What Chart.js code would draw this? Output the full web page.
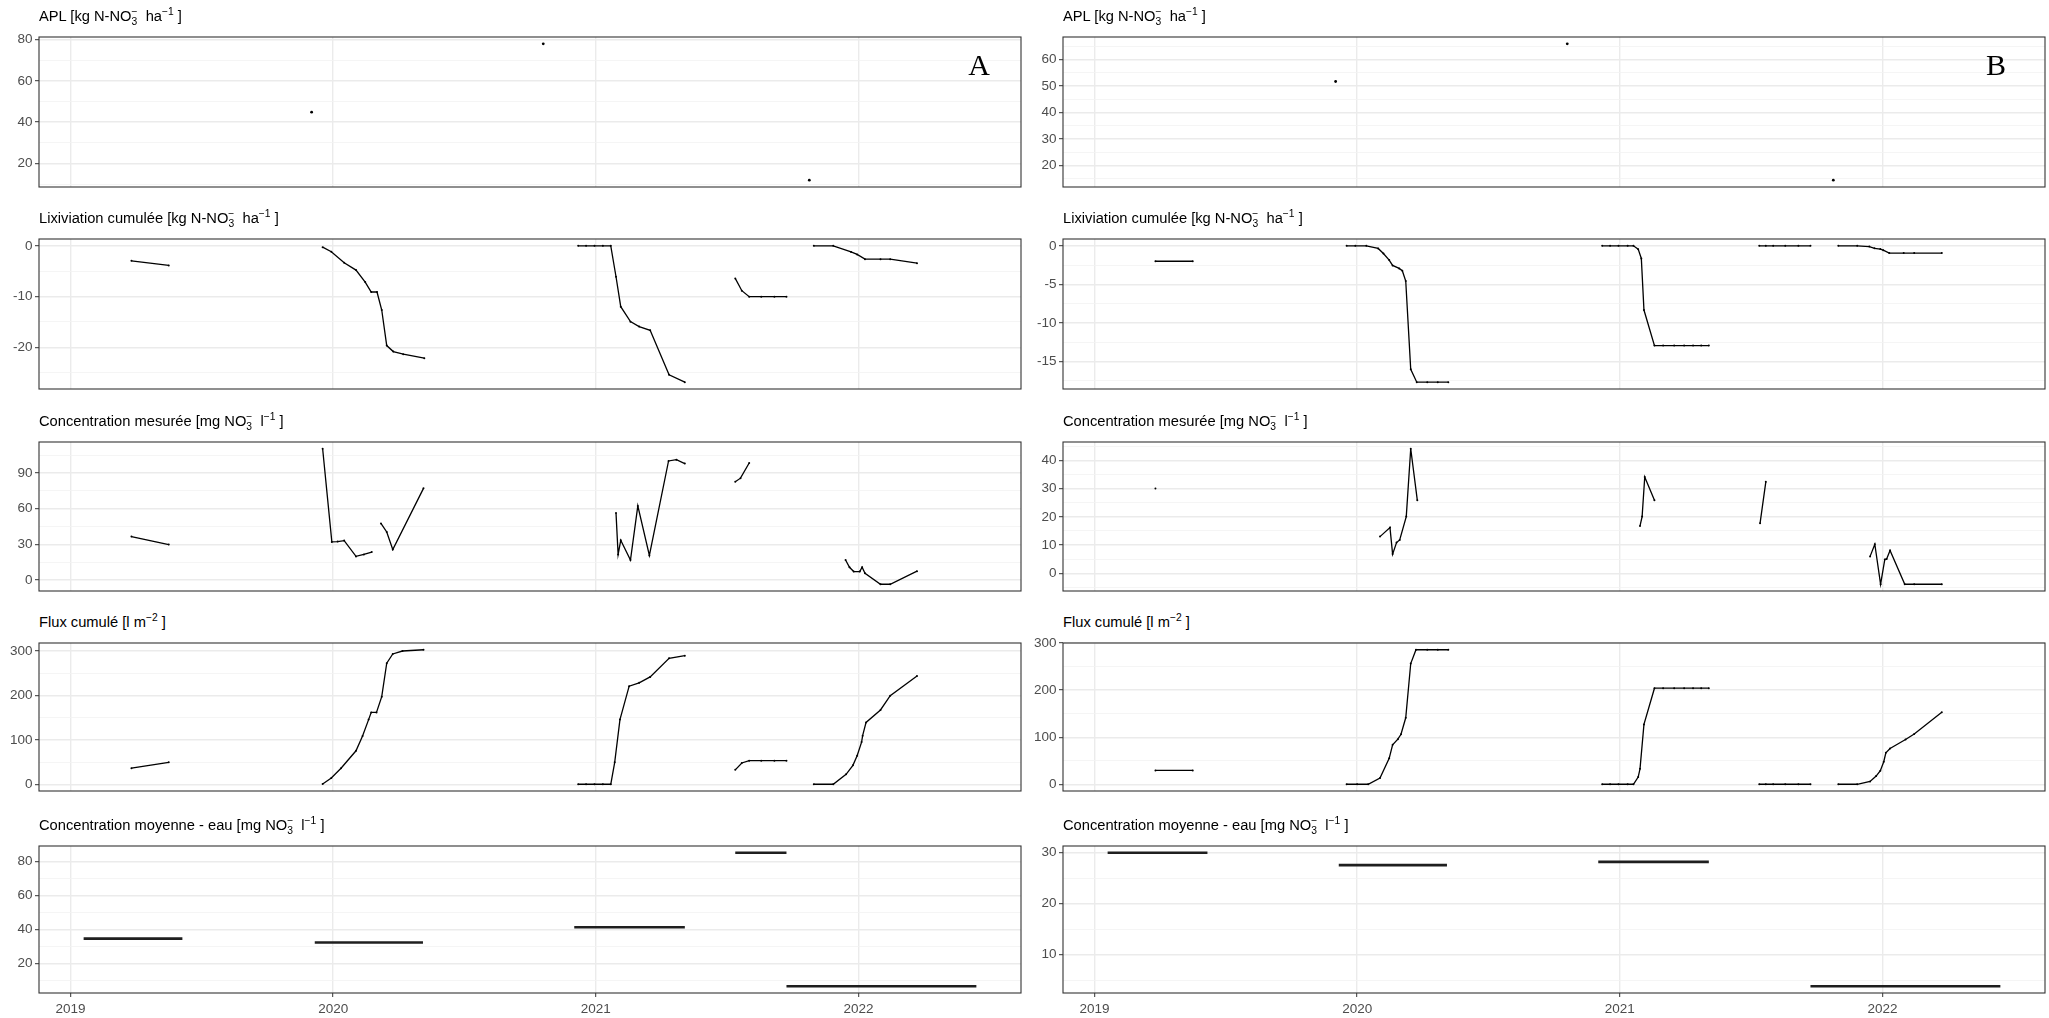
<!DOCTYPE html>
<html>
<head>
<meta charset="utf-8">
<script src="https://cdn.jsdelivr.net/npm/chart.js@4.4.1/dist/chart.umd.min.js"></script>
<style>
  html, body { margin: 0; padding: 0; background: #fff; }
  #fig { position: relative; width: 2049px; height: 1018px; overflow: hidden;
         font-family: "Liberation Sans", Arial, sans-serif; }
  .panel { position: absolute; }
  .ttl { position: absolute; font-size: 14.7px; line-height: 17px; color: #000; white-space: nowrap; }
  .ttl sub, .ttl sup { font-size: 0.7em; line-height: 0; }
  .ttl sup.st { margin-left: -0.56em; }
  .tag { position: absolute; font-family: "Liberation Serif", "Times New Roman", serif;
         font-size: 30px; line-height: 30px; color: #000; transform: translate(-50%, -50%); }
</style>
</head>
<body>
<div id="fig"></div>
<script>
// ---- x axis (decimal years) ----
const yearTicks = [2019, 2020, 2021, 2022];

// ---- panel titles ----
const panelTitles = [
  'APL [kg N-NO<sub>3</sub><sup class="st">−</sup>&nbsp; ha<sup>−1</sup> ]',
  'Lixiviation cumulée [kg N-NO<sub>3</sub><sup class="st">−</sup>&nbsp; ha<sup>−1</sup> ]',
  'Concentration mesurée [mg NO<sub>3</sub><sup class="st">−</sup>&nbsp; l<sup>−1</sup> ]',
  'Flux cumulé [l m<sup>−2</sup> ]',
  'Concentration moyenne - eau [mg NO<sub>3</sub><sup class="st">−</sup>&nbsp; l<sup>−1</sup> ]'
];
const columnTags = ['A', 'B'];

// ---- APL (single observations) ----
const aplA = [[2019.918, 44.8], [2020.800, 77.9], [2021.813, 11.9]];
const aplB = [[2019.918, 51.7], [2020.800, 65.9], [2021.813, 14.5]];

// ---- cumulative leaching, one sub-array per season ----
const lixA = [
  [[2019.232, -2.95], [2019.374, -3.87]],
  [[2019.960, -0.26], [2019.993, -1.18], [2020.042, -3.34], [2020.087, -4.79], [2020.122, -7.15], [2020.145, -9.11],
   [2020.167, -9.11], [2020.185, -12.66], [2020.204, -19.67], [2020.229, -20.85], [2020.267, -21.38], [2020.347, -22.16]],
  [[2020.933, 0], [2020.963, 0], [2020.995, 0], [2021.027, 0], [2021.057, 0], [2021.077, -6.1], [2021.095, -12.0],
   [2021.132, -14.95], [2021.165, -15.93], [2021.207, -16.66], [2021.279, -25.44], [2021.339, -26.89]],
  [[2021.531, -6.43], [2021.556, -8.85], [2021.584, -10.03], [2021.630, -10.03], [2021.680, -10.03], [2021.726, -10.03]],
  [[2021.830, 0], [2021.904, 0], [2021.972, -1.2], [2021.995, -1.7], [2022.025, -2.63], [2022.084, -2.63],
   [2022.121, -2.63], [2022.223, -3.42]]
];
const lixB = [
  [[2019.232, -2.0], [2019.374, -2.0]],
  [[2019.960, 0], [2019.993, 0], [2020.035, 0], [2020.080, -0.34], [2020.100, -0.99], [2020.122, -1.85], [2020.135, -2.54],
   [2020.160, -2.93], [2020.172, -3.23], [2020.185, -4.57], [2020.204, -15.99], [2020.227, -17.67], [2020.267, -17.67],
   [2020.307, -17.67], [2020.347, -17.67]],
  [[2020.933, 0], [2020.963, 0], [2020.995, 0], [2021.030, 0], [2021.052, 0], [2021.070, -0.43], [2021.082, -1.64],
   [2021.092, -8.32], [2021.132, -12.93], [2021.165, -12.93], [2021.207, -12.93], [2021.245, -12.93], [2021.279, -12.93],
   [2021.310, -12.93], [2021.339, -12.93]],
  [[2021.531, 0], [2021.556, 0], [2021.584, 0], [2021.630, 0], [2021.680, 0], [2021.726, 0]],
  [[2021.832, 0], [2021.904, 0], [2021.950, -0.1], [2021.970, -0.33], [2021.992, -0.42], [2022.003, -0.56],
   [2022.026, -0.94], [2022.081, -0.94], [2022.121, -0.94], [2022.226, -0.94]]
];

// ---- measured concentration ----
const concA = [
  [[2019.232, 36.5], [2019.374, 29.8]],
  [[2019.960, 110.6], [2019.995, 32.0], [2020.017, 32.3], [2020.042, 33.1], [2020.087, 19.8], [2020.117, 21.4], [2020.147, 23.4]],
  [[2020.182, 47.6], [2020.204, 40.4], [2020.227, 25.6], [2020.344, 77.2]],
  [[2021.077, 56.3], [2021.085, 21.4], [2021.095, 33.4], [2021.132, 16.7], [2021.160, 62.4], [2021.204, 20.6],
   [2021.277, 100.3], [2021.307, 101.4], [2021.339, 98.1]],
  [[2021.531, 82.7], [2021.551, 85.8], [2021.584, 98.6]],
  [[2021.951, 16.7], [2021.966, 10.6], [2021.982, 7.0], [2022.005, 7.0], [2022.014, 10.6], [2022.025, 5.5],
   [2022.084, -3.7], [2022.121, -3.7], [2022.223, 7.3]]
];
const concB = [
  [[2019.232, 30.0]],
  [[2020.087, 13.0], [2020.125, 16.2], [2020.135, 6.8], [2020.150, 10.9], [2020.162, 11.8], [2020.187, 20.1],
   [2020.204, 44.1], [2020.229, 25.9]],
  [[2021.077, 16.8], [2021.085, 20.1], [2021.095, 34.1], [2021.132, 25.9]],
  [[2021.534, 17.7], [2021.556, 32.4]],
  [[2021.953, 6.0], [2021.971, 10.3], [2021.993, -3.86], [2022.009, 4.9], [2022.016, 5.1], [2022.029, 8.1],
   [2022.085, -3.86], [2022.121, -3.86], [2022.226, -3.86]]
];

// ---- cumulative drainage flux ----
const fluxA = [
  [[2019.232, 36.2], [2019.374, 49.5]],
  [[2019.960, 0.7], [2019.993, 14.0], [2020.030, 36.2], [2020.087, 75.4], [2020.112, 108.6], [2020.135, 145.6],
   [2020.145, 161.9], [2020.165, 161.9], [2020.185, 197.3], [2020.204, 272.7], [2020.227, 293.4], [2020.264, 300.1],
   [2020.344, 303.0]],
  [[2020.933, 0], [2020.963, 0], [2020.995, 0], [2021.027, 0], [2021.057, 0], [2021.072, 49.5], [2021.092, 145.6],
   [2021.127, 221.0], [2021.165, 228.4], [2021.207, 241.7], [2021.279, 283.8], [2021.339, 289.7]],
  [[2021.531, 32.5], [2021.556, 48.0], [2021.584, 53.2], [2021.630, 53.2], [2021.680, 53.2], [2021.726, 53.2]],
  [[2021.830, 0], [2021.904, 0], [2021.953, 22.5], [2021.979, 42.6], [2021.995, 64.4], [2022.012, 95.0],
   [2022.016, 109.4], [2022.029, 139.2], [2022.084, 167.3], [2022.121, 199.5], [2022.223, 243.8]]
];
const fluxB = [
  [[2019.232, 29.4], [2019.374, 29.4]],
  [[2019.960, 0], [2020.000, 0], [2020.042, 0], [2020.087, 13.3], [2020.122, 55.2], [2020.135, 83.9], [2020.155, 95.8],
   [2020.167, 106.3], [2020.185, 141.3], [2020.204, 256.6], [2020.224, 286.0], [2020.267, 286.0], [2020.307, 286.0],
   [2020.347, 286.0]],
  [[2020.933, 0], [2020.963, 0], [2020.995, 0], [2021.030, 0], [2021.052, 0], [2021.070, 15.4], [2021.077, 32.9],
   [2021.092, 127.3], [2021.132, 204.2], [2021.165, 204.2], [2021.207, 204.2], [2021.245, 204.2], [2021.279, 204.2],
   [2021.310, 204.2], [2021.339, 204.2]],
  [[2021.531, 0], [2021.556, 0], [2021.584, 0], [2021.630, 0], [2021.680, 0], [2021.726, 0]],
  [[2021.832, 0], [2021.904, 0], [2021.953, 6.1], [2021.976, 17.5], [2021.992, 29.0], [2022.005, 48.0],
   [2022.013, 67.0], [2022.029, 76.2], [2022.088, 95.3], [2022.121, 106.7], [2022.226, 153.2]]
];

// ---- mean concentration of drained water per period ----
const moyA = [
  [[2019.050, 34.6], [2019.426, 34.6]],
  [[2019.930, 32.3], [2020.342, 32.3]],
  [[2020.918, 41.3], [2021.339, 41.3]],
  [[2021.531, 85.2], [2021.726, 85.2]],
  [[2021.726, 6.5], [2022.449, 6.5]]
];
const moyB = [
  [[2019.050, 30.0], [2019.430, 30.0]],
  [[2019.930, 27.56], [2020.342, 27.56]],
  [[2020.918, 28.2], [2021.339, 28.2]],
  [[2021.726, 3.76], [2022.449, 3.76]]
];

// major / minor y gridline spacing per row, per column
const yStepsA = [[20, 10], [10, 5], [30, 15], [100, 50], [20, 10]];
const yStepsB = [[10, 5], [5, 2.5], [10, 5], [100, 50], [10, 5]];

// ---------------- layout ----------------
const layoutCfg = {
  rows: [[37, 187], [239, 389], [442, 591], [643, 791], [846, 993]],
  cols: [{ left: 0, width: 1024, boxLeft: 39, boxRight: 1021, tagX: 979 },
         { left: 1024, width: 1025, boxLeft: 39, boxRight: 1021, tagX: 972 }],
  padTop: 12, padBottom: 12, xAxisH: 24, tagY: 65
};

const columnsData = [
  { rows: [[aplA], lixA, concA, fluxA, moyA], steps: yStepsA },
  { rows: [[aplB], lixB, concB, fluxB, moyB], steps: yStepsB }
];

// shared x range with 5 % expansion
const allX = columnsData.flatMap(c => c.rows.flatMap(r => r.flat().map(p => p[0])));
const xLo = Math.min(...allX), xHi = Math.max(...allX);
const xMin = xLo - 0.05 * (xHi - xLo), xMax = xHi + 0.05 * (xHi - xLo);

function yRange(segs) {
  const ys = segs.flat().map(p => p[1]);
  const lo = Math.min(...ys), hi = Math.max(...ys);
  const pad = (hi - lo) * 0.05;
  return [lo - pad, hi + pad];
}

function toPoints(segs) {
  const out = [];
  segs.forEach((s, i) => {
    if (i > 0) out.push({ x: s[0][0], y: null });
    s.forEach(p => out.push({ x: p[0], y: p[1] }));
  });
  return out;
}

const near = (v, step) => Math.abs(v / step - Math.round(v / step)) < 1e-6;

const panelFrame = {
  id: 'panelFrame',
  afterDraw(chart) {
    const a = chart.chartArea, ctx = chart.ctx;
    ctx.save();
    ctx.strokeStyle = '#333333';
    ctx.lineWidth = 1.1;
    ctx.strokeRect(a.left, a.top, a.right - a.left, a.bottom - a.top);
    ctx.restore();
  }
};

const fig = document.getElementById('fig');
const tickFont = { family: '"Liberation Sans", Arial, sans-serif', size: 13.5 };

layoutCfg.cols.forEach((col, ci) => {
  const cd = columnsData[ci];
  layoutCfg.rows.forEach(([top, bottom], ri) => {
    const last = ri === layoutCfg.rows.length - 1;
    const segs = cd.rows[ri];
    const [major, minor] = cd.steps[ri];
    const [yMin, yMax] = yRange(segs);
    const h = (bottom - top) + layoutCfg.padTop + (last ? layoutCfg.xAxisH : layoutCfg.padBottom);

    const cv = document.createElement('canvas');
    cv.className = 'panel';
    cv.width = col.width; cv.height = h;
    cv.style.left = col.left + 'px';
    cv.style.top = (top - layoutCfg.padTop) + 'px';
    cv.style.width = col.width + 'px';
    cv.style.height = h + 'px';
    fig.appendChild(cv);

    const isPoints = ri === 0;
    const isMean = ri === 4;

    new Chart(cv.getContext('2d'), {
      type: 'line',
      data: {
        datasets: [{
          data: toPoints(segs),
          showLine: !isPoints,
          spanGaps: false,
          borderColor: isMean ? '#1f1f1f' : '#000000',
          borderWidth: isMean ? 2.6 : 1.3,
          pointRadius: isMean ? 0 : (isPoints ? 1.4 : 1.0),
          pointBackgroundColor: '#000',
          pointBorderWidth: 0,
          pointHoverRadius: 0,
          tension: 0
        }]
      },
      options: {
        responsive: false,
        animation: false,
        devicePixelRatio: 1,
        events: [],
        layout: { padding: { top: layoutCfg.padTop, bottom: last ? 0 : layoutCfg.padBottom, left: 0,
                             right: col.width - col.boxRight } },
        plugins: { legend: { display: false }, tooltip: { enabled: false } },
        scales: {
          x: {
            type: 'linear', min: xMin, max: xMax,
            afterBuildTicks: s => { s.ticks = yearTicks.map(v => ({ value: v })); },
            afterFit: s => { s.height = last ? layoutCfg.xAxisH : 0; },
            border: { display: false },
            grid: { color: '#EBEBEB', lineWidth: 1.4, drawTicks: last, tickLength: 4,
                    tickColor: '#333333', tickWidth: 1 },
            ticks: { display: last, autoSkip: false, maxRotation: 0, padding: 4.5, color: '#4D4D4D',
                     font: tickFont, callback: v => String(v) }
          },
          y: {
            type: 'linear', min: yMin, max: yMax,
            afterBuildTicks: s => {
              const t = [];
              for (let v = Math.ceil(s.min / minor - 1e-9) * minor; v <= s.max + 1e-9; v += minor) {
                t.push({ value: +v.toFixed(6) });
              }
              s.ticks = t;
            },
            afterFit: s => { s.width = col.boxLeft; },
            border: { display: false },
            grid: {
              color: c => (c.tick && near(c.tick.value, major)) ? '#EBEBEB' : '#F3F3F3',
              lineWidth: c => (c.tick && near(c.tick.value, major)) ? 1.4 : 0.8,
              tickColor: c => (c.tick && near(c.tick.value, major)) ? '#333333' : 'rgba(0,0,0,0)',
              tickWidth: 1, tickLength: 4, drawTicks: true
            },
            ticks: { autoSkip: false, padding: 2.5, color: '#4D4D4D', font: tickFont,
                     callback: v => near(v, major) ? String(Math.round(v * 1000) / 1000) : '' }
          }
        }
      },
      plugins: [panelFrame]
    });

    const t = document.createElement('div');
    t.className = 'ttl';
    t.innerHTML = panelTitles[ri];
    t.style.left = (col.left + col.boxLeft) + 'px';
    t.style.top = (top - 29) + 'px';
    fig.appendChild(t);
  });

  const tag = document.createElement('div');
  tag.className = 'tag';
  tag.textContent = columnTags[ci];
  tag.style.left = (col.left + col.tagX) + 'px';
  tag.style.top = layoutCfg.tagY + 'px';
  fig.appendChild(tag);
});
</script>
</body>
</html>
